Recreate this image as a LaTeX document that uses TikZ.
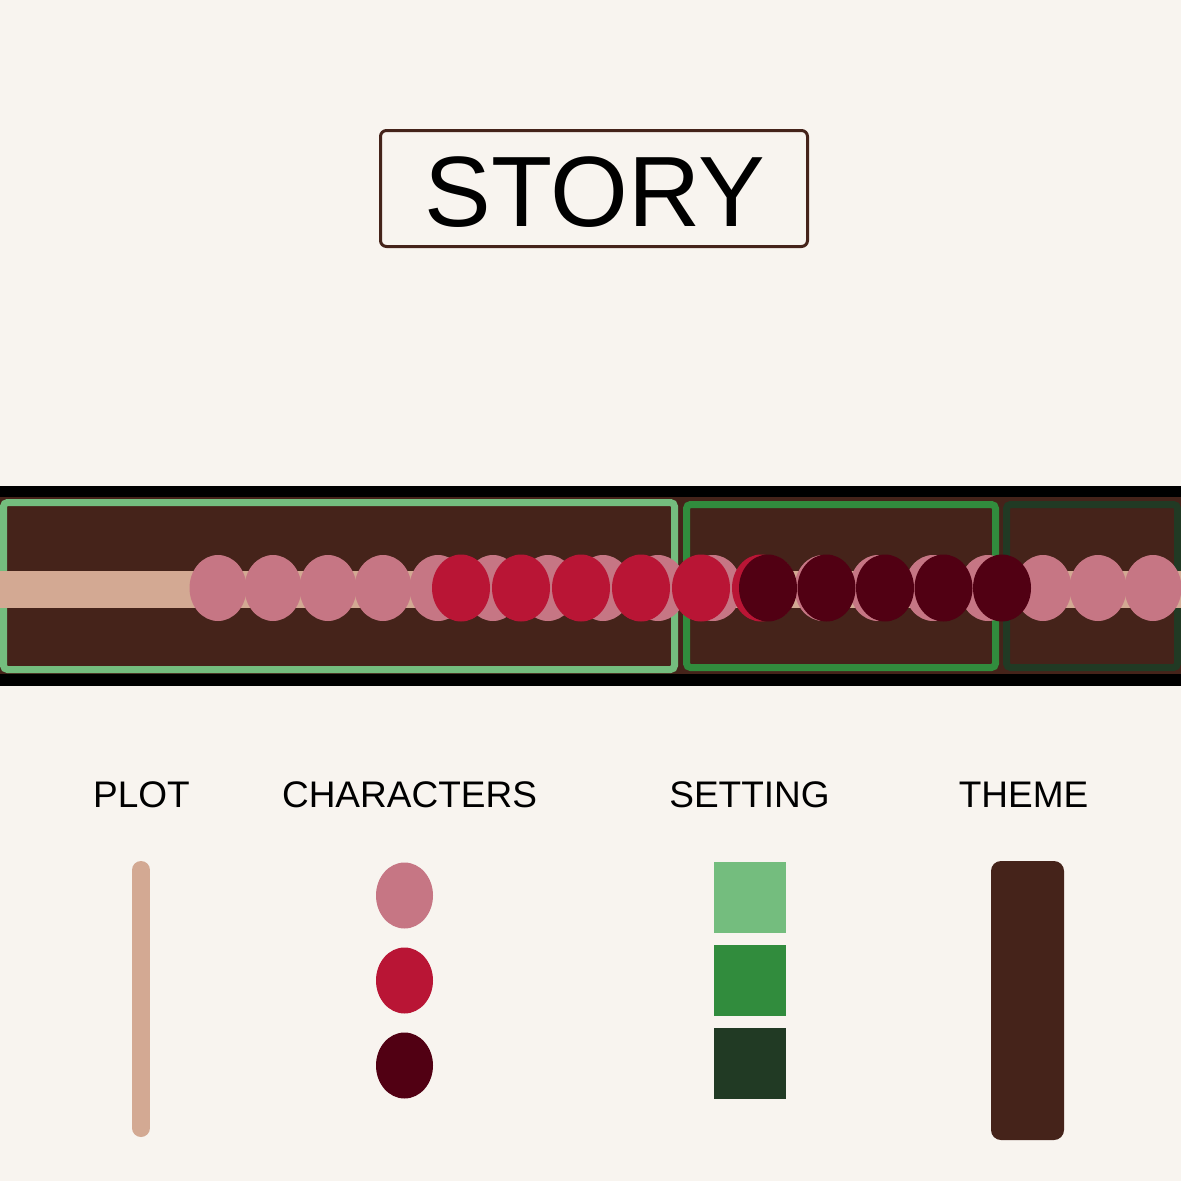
\documentclass[tikz,border=0pt]{standalone}
\usepackage{fontspec}
\setmainfont{Liberation Sans}
\usetikzlibrary{shapes.geometric}
\definecolor{bg}{HTML}{F8F4EF}
\definecolor{brownc}{HTML}{45231A}
\definecolor{tanc}{HTML}{D3A993}
\definecolor{pinkc}{HTML}{C67684}
\definecolor{redc}{HTML}{B91535}
\definecolor{darkc}{HTML}{510013}
\definecolor{glight}{HTML}{74BD7E}
\definecolor{gmid}{HTML}{318C3D}
\definecolor{gdark}{HTML}{213A24}
\tikzset{
  bead/.style={ellipse, inner sep=0pt, minimum width=57pt, minimum height=66pt, draw=none},
  pinkbead/.style={bead, fill=pinkc},
  redbead/.style={bead, fill=redc, minimum width=58pt, minimum height=67pt},
  darkbead/.style={bead, fill=darkc, minimum width=58pt, minimum height=67pt},
  frame/.style={line width=7pt, rounded corners=4pt},
  lbl/.style={anchor=base, inner sep=0pt, font=\fontsize{37}{44}\selectfont},
  swatch/.style={inner sep=0pt, minimum width=72pt, minimum height=71pt, draw=none}
}
\begin{document}
\begin{tikzpicture}[x=1pt,y=-1pt]
\useasboundingbox (0,0) rectangle (1181,1181);
\fill[bg] (0,0) rectangle (1181,1181);
\clip (0,0) rectangle (1181,1181);
% title
\node[draw=brownc, line width=3pt, rounded corners=6pt, minimum width=427pt, minimum height=116pt, inner sep=0pt] (title) at (594,188.5) {};
\node[anchor=base, inner sep=0pt, font=\fontsize{100}{120}\selectfont] (storytext) at (595,226) {STORY};
% band
\fill[black] (-10,486) rectangle (1191,686);
\fill[brownc] (-10,497) rectangle (1191,674);
\draw[frame, draw=glight] (3.5,502.5) rectangle (674.5,669.5);
\draw[frame, draw=gmid] (686.5,504.5) rectangle (995.5,667.5);
\draw[frame, draw=gdark] (1006.5,504.5) rectangle (1177.5,667.5);
% plot line
\fill[tanc] (-10,571) rectangle (1191,608);
% beads
\foreach \i in {0,...,17} {
  \node[pinkbead] (p\i) at ({218+55*\i},588) {};
}
\foreach \i in {0,...,5} {
  \node[redbead] (r\i) at ({461+60*\i},588) {};
}
\foreach \i in {0,...,4} {
  \node[darkbead] (d\i) at ({768+58.5*\i},588) {};
}
% labels
\node[lbl] (lplot) at (141.5,807) {PLOT};
\node[lbl] (lchar) at (409.5,807) {CHARACTERS};
\node[lbl] (lset) at (749.5,807) {SETTING};
\node[lbl] (ltheme) at (1023.5,807) {THEME};
% legend
\coordinate (pl1) at (141,870);
\coordinate (pl2) at (141,1128);
\draw[tanc, line width=18pt, line cap=round] (pl1) -- (pl2);
\node[pinkbead] (c1) at (404.5,895.5) {};
\node[redbead, minimum width=57pt, minimum height=66pt] (c2) at (404.5,980.5) {};
\node[darkbead, minimum width=57pt, minimum height=66pt] (c3) at (404.5,1065.5) {};
\node[swatch, fill=glight] (s1) at (750,897.5) {};
\node[swatch, fill=gmid] (s2) at (750,980.5) {};
\node[swatch, fill=gdark] (s3) at (750,1063.5) {};
\node[inner sep=0pt, fill=brownc, rounded corners=10pt, minimum width=73pt, minimum height=279pt] (theme) at (1027.5,1000.5) {};
\end{tikzpicture}
\end{document}
